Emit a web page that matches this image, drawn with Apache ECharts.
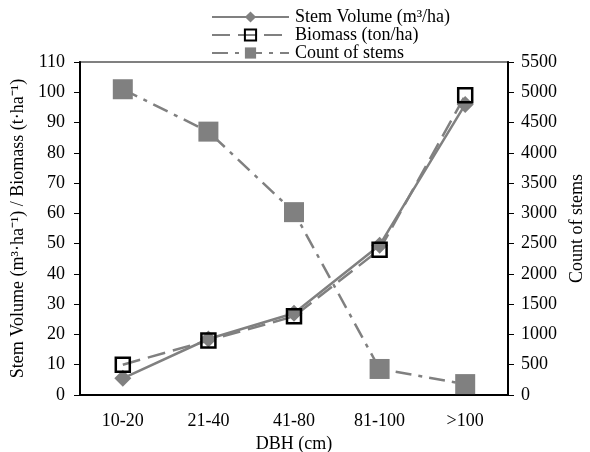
<!DOCTYPE html>
<html><head><meta charset="utf-8">
<script src="https://cdn.jsdelivr.net/npm/echarts@6/dist/echarts.min.js"></script>
<style>html,body{margin:0;padding:0;background:#fff}#c{width:590px;height:452px}</style>
</head><body><div id="c"></div>
<script>
const categories = ['10-20','21-40','41-80','81-100','>100'];
const stemVolume = [5.5, 18.5, 27, 49.5, 96];
const biomass = [10, 18, 26, 48, 99];
const countStems = [5050, 4350, 3020, 430, 180];
const leftTicks = {min: 0, max: 110, interval: 10};
const rightTicks = {min: 0, max: 5500, interval: 500};

const font = 'Liberation Serif, Times New Roman, serif';
const fs = 18;
const chart = echarts.init(document.getElementById('c'));
chart.setOption({
  animation: false,
  textStyle: {fontFamily: font},
  legend: {
    orient: 'vertical', left: 206, top: 3, itemGap: 0, itemWidth: 77, itemHeight: 14,
    textStyle: {fontFamily: font, fontSize: fs, color: '#000', padding: [0, 0, 0, 1]},
    data: ['Stem Volume (m³/ha)', 'Biomass (ton/ha)', 'Count of stems']
  },
  grid: {left: 80, right: 82, top: 62, bottom: 57, show: true, borderColor: '#808080', borderWidth: 2,
         containLabel: false, outerBoundsMode: 'none'},
  xAxis: {
    type: 'category', data: categories, boundaryGap: true,
    name: 'DBH (cm)', nameLocation: 'middle', nameGap: 38,
    nameTextStyle: {fontFamily: font, fontSize: fs, color: '#000'},
    axisLine: {lineStyle: {color: '#000', width: 2}},
    axisTick: {alignWithLabel: false, length: 6, lineStyle: {color: '#000'}},
    axisLabel: {fontFamily: font, fontSize: fs, color: '#000', margin: 17}
  },
  yAxis: [{
    type: 'value', min: leftTicks.min, max: leftTicks.max, interval: leftTicks.interval,
    name: 'Stem Volume (m³·ha⁻¹) / Biomass (t·ha⁻¹)', nameLocation: 'middle', nameGap: 44,
    nameTextStyle: {fontFamily: font, fontSize: fs, color: '#000'},
    axisLine: {show: true, lineStyle: {color: '#000', width: 2}},
    axisTick: {show: true, length: 6, lineStyle: {color: '#000'}},
    axisLabel: {fontFamily: font, fontSize: fs, color: '#000', margin: 15},
    splitLine: {show: false}
  }, {
    type: 'value', min: rightTicks.min, max: rightTicks.max, interval: rightTicks.interval, position: 'right',
    name: 'Count of stems', nameLocation: 'middle', nameGap: 57, nameRotate: 90,
    nameTextStyle: {fontFamily: font, fontSize: fs, color: '#000'},
    axisLine: {show: true, lineStyle: {color: '#000', width: 2}},
    axisTick: {show: true, length: 6, lineStyle: {color: '#000'}},
    axisLabel: {fontFamily: font, fontSize: fs, color: '#000', margin: 13, formatter: v => String(v)},
    splitLine: {show: false}
  }],
  series: [{
    name: 'Stem Volume (m³/ha)', type: 'line', data: stemVolume, yAxisIndex: 0,
    symbol: 'diamond', symbolSize: 17,
    itemStyle: {color: '#808080'},
    lineStyle: {color: '#808080', width: 2.5, type: 'solid'}
  }, {
    name: 'Biomass (ton/ha)', type: 'line', data: biomass, yAxisIndex: 0,
    symbol: 'rect', symbolSize: 14,
    itemStyle: {color: 'rgba(255,255,255,0)', borderColor: '#000', borderWidth: 2.5},
    lineStyle: {color: '#808080', width: 2.5, type: [18, 8]},
    z: 3
  }, {
    name: 'Count of stems', type: 'line', data: countStems, yAxisIndex: 1,
    symbol: 'rect', symbolSize: 20,
    itemStyle: {color: '#808080'},
    lineStyle: {color: '#808080', width: 2.5, type: [16, 7, 4, 7]}
  }]
});
</script></body></html>
